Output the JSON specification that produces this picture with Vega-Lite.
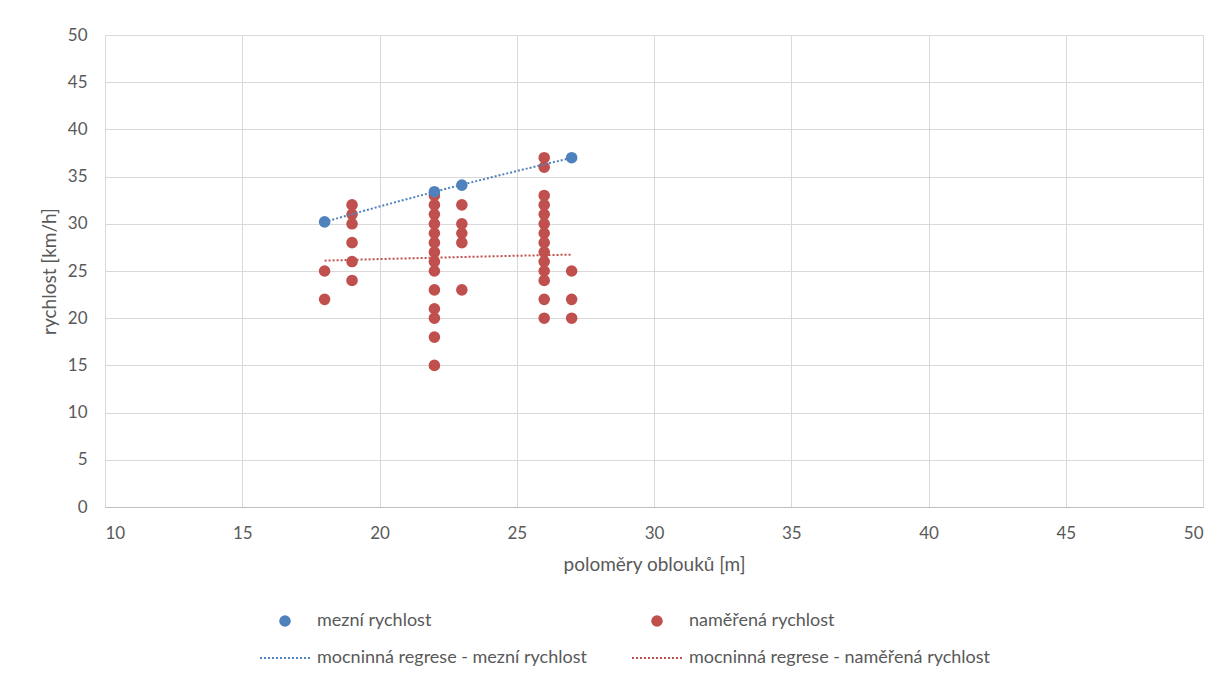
{
  "$schema": "https://vega.github.io/schema/vega-lite/v6.json",
  "width": 1098,
  "height": 472,
  "autosize": "none",
  "padding": {"left": 105, "top": 35, "right": 21, "bottom": 171},
  "background": "white",
  "config": {
    "font": "Lato",
    "view": {"stroke": null},
    "axis": {
      "gridColor": "#d9d9d9",
      "gridWidth": 1,
      "tickSize": 0,
      "labelColor": "#595959",
      "labelFontSize": 17,
      "titleColor": "#595959",
      "titleFontSize": 19,
      "titleFontWeight": "normal"
    },
    "legend": {
      "title": null,
      "orient": "none",
      "legendX": 171,
      "legendY": 577,
      "direction": "horizontal",
      "columns": 2,
      "columnPadding": 41,
      "rowPadding": 19,
      "labelFontSize": 18,
      "labelColor": "#595959",
      "labelOffset": 23,
      "labelLimit": 400
    }
  },
  "datasets": {
    "pts": [
      {"r": 18, "v": 30.2, "series": "mezní rychlost"},
      {"r": 22, "v": 33.4, "series": "mezní rychlost"},
      {"r": 23, "v": 34.1, "series": "mezní rychlost"},
      {"r": 27, "v": 37.0, "series": "mezní rychlost"},
      {"r": 18, "v": 25, "series": "naměřená rychlost"},
      {"r": 18, "v": 22, "series": "naměřená rychlost"},
      {"r": 19, "v": 32, "series": "naměřená rychlost"},
      {"r": 19, "v": 31, "series": "naměřená rychlost"},
      {"r": 19, "v": 30, "series": "naměřená rychlost"},
      {"r": 19, "v": 28, "series": "naměřená rychlost"},
      {"r": 19, "v": 26, "series": "naměřená rychlost"},
      {"r": 19, "v": 24, "series": "naměřená rychlost"},
      {"r": 22, "v": 33, "series": "naměřená rychlost"},
      {"r": 22, "v": 32, "series": "naměřená rychlost"},
      {"r": 22, "v": 31, "series": "naměřená rychlost"},
      {"r": 22, "v": 30, "series": "naměřená rychlost"},
      {"r": 22, "v": 29, "series": "naměřená rychlost"},
      {"r": 22, "v": 28, "series": "naměřená rychlost"},
      {"r": 22, "v": 27, "series": "naměřená rychlost"},
      {"r": 22, "v": 26, "series": "naměřená rychlost"},
      {"r": 22, "v": 25, "series": "naměřená rychlost"},
      {"r": 22, "v": 23, "series": "naměřená rychlost"},
      {"r": 22, "v": 21, "series": "naměřená rychlost"},
      {"r": 22, "v": 20, "series": "naměřená rychlost"},
      {"r": 22, "v": 18, "series": "naměřená rychlost"},
      {"r": 22, "v": 15, "series": "naměřená rychlost"},
      {"r": 23, "v": 32, "series": "naměřená rychlost"},
      {"r": 23, "v": 30, "series": "naměřená rychlost"},
      {"r": 23, "v": 29, "series": "naměřená rychlost"},
      {"r": 23, "v": 28, "series": "naměřená rychlost"},
      {"r": 23, "v": 23, "series": "naměřená rychlost"},
      {"r": 26, "v": 37, "series": "naměřená rychlost"},
      {"r": 26, "v": 36, "series": "naměřená rychlost"},
      {"r": 26, "v": 33, "series": "naměřená rychlost"},
      {"r": 26, "v": 32, "series": "naměřená rychlost"},
      {"r": 26, "v": 31, "series": "naměřená rychlost"},
      {"r": 26, "v": 30, "series": "naměřená rychlost"},
      {"r": 26, "v": 29, "series": "naměřená rychlost"},
      {"r": 26, "v": 28, "series": "naměřená rychlost"},
      {"r": 26, "v": 27, "series": "naměřená rychlost"},
      {"r": 26, "v": 26, "series": "naměřená rychlost"},
      {"r": 26, "v": 25, "series": "naměřená rychlost"},
      {"r": 26, "v": 24, "series": "naměřená rychlost"},
      {"r": 26, "v": 22, "series": "naměřená rychlost"},
      {"r": 26, "v": 20, "series": "naměřená rychlost"},
      {"r": 27, "v": 25, "series": "naměřená rychlost"},
      {"r": 27, "v": 22, "series": "naměřená rychlost"},
      {"r": 27, "v": 20, "series": "naměřená rychlost"}
    ]
  },
  "data": {"name": "pts"},
  "encoding": {
    "x": {
      "field": "r",
      "type": "quantitative",
      "scale": {"domain": [10, 50], "nice": false, "zero": false},
      "axis": {
        "title": "poloměry oblouků [m]",
        "values": [10, 15, 20, 25, 30, 35, 40, 45, 50],
        "domain": true,
        "domainColor": "#bfbfbf",
        "labelPadding": 18,
        "titlePadding": 14
      }
    },
    "y": {
      "field": "v",
      "type": "quantitative",
      "scale": {"domain": [0, 50], "nice": false},
      "axis": {
        "title": "rychlost [km/h]",
        "values": [0, 5, 10, 15, 20, 25, 30, 35, 40, 45, 50],
        "domain": false,
        "labelPadding": 18,
        "titlePadding": 8
      }
    }
  },
  "layer": [
    {
      "transform": [{"filter": {"field": "series", "equal": "naměřená rychlost"}}],
      "mark": {"type": "circle", "size": 135, "opacity": 1},
      "encoding": {
        "color": {
          "field": "series",
          "type": "nominal",
          "scale": {
            "domain": ["mezní rychlost", "naměřená rychlost", "mocninná regrese - mezní rychlost", "mocninná regrese - naměřená rychlost"],
            "range": ["#4F81BD", "#C0504D", "#4F81BD", "#C0504D"]
          },
          "legend": {
            "encode": {"symbols": {"update": {
              "shape": {"signal": "test(/regrese/, datum.value) ? 'stroke' : 'circle'"},
              "size": {"signal": "test(/regrese/, datum.value) ? 2500 : 135"},
              "strokeDash": {"signal": "test(/regrese/, datum.value) ? [2, 2] : [1, 0]"},
              "strokeWidth": {"signal": "test(/regrese/, datum.value) ? 2 : 0"}
            }}}
          }
        }
      }
    },
    {
      "transform": [{"filter": {"field": "series", "equal": "mezní rychlost"}}],
      "mark": {"type": "circle", "size": 135, "opacity": 1},
      "encoding": {"color": {"field": "series", "type": "nominal", "legend": {
            "encode": {"symbols": {"update": {
              "shape": {"signal": "test(/regrese/, datum.value) ? 'stroke' : 'circle'"},
              "size": {"signal": "test(/regrese/, datum.value) ? 2500 : 135"},
              "strokeDash": {"signal": "test(/regrese/, datum.value) ? [2, 2] : [1, 0]"},
              "strokeWidth": {"signal": "test(/regrese/, datum.value) ? 2 : 0"}
            }}}
          }}}
    },
    {
      "transform": [
        {"filter": {"field": "series", "equal": "naměřená rychlost"}},
        {"regression": "v", "on": "r", "method": "pow", "extent": [18, 27]}
      ],
      "mark": {"type": "line", "strokeWidth": 2, "strokeDash": [2, 2]},
      "encoding": {"color": {"datum": "mocninná regrese - naměřená rychlost", "type": "nominal", "legend": {
            "encode": {"symbols": {"update": {
              "shape": {"signal": "test(/regrese/, datum.value) ? 'stroke' : 'circle'"},
              "size": {"signal": "test(/regrese/, datum.value) ? 2500 : 135"},
              "strokeDash": {"signal": "test(/regrese/, datum.value) ? [2, 2] : [1, 0]"},
              "strokeWidth": {"signal": "test(/regrese/, datum.value) ? 2 : 0"}
            }}}
          }}}
    },
    {
      "transform": [
        {"filter": {"field": "series", "equal": "mezní rychlost"}},
        {"regression": "v", "on": "r", "method": "pow", "extent": [18, 27]}
      ],
      "mark": {"type": "line", "strokeWidth": 2, "strokeDash": [2, 2]},
      "encoding": {"color": {"datum": "mocninná regrese - mezní rychlost", "type": "nominal", "legend": {
            "encode": {"symbols": {"update": {
              "shape": {"signal": "test(/regrese/, datum.value) ? 'stroke' : 'circle'"},
              "size": {"signal": "test(/regrese/, datum.value) ? 2500 : 135"},
              "strokeDash": {"signal": "test(/regrese/, datum.value) ? [2, 2] : [1, 0]"},
              "strokeWidth": {"signal": "test(/regrese/, datum.value) ? 2 : 0"}
            }}}
          }}}
    }
  ]
}
